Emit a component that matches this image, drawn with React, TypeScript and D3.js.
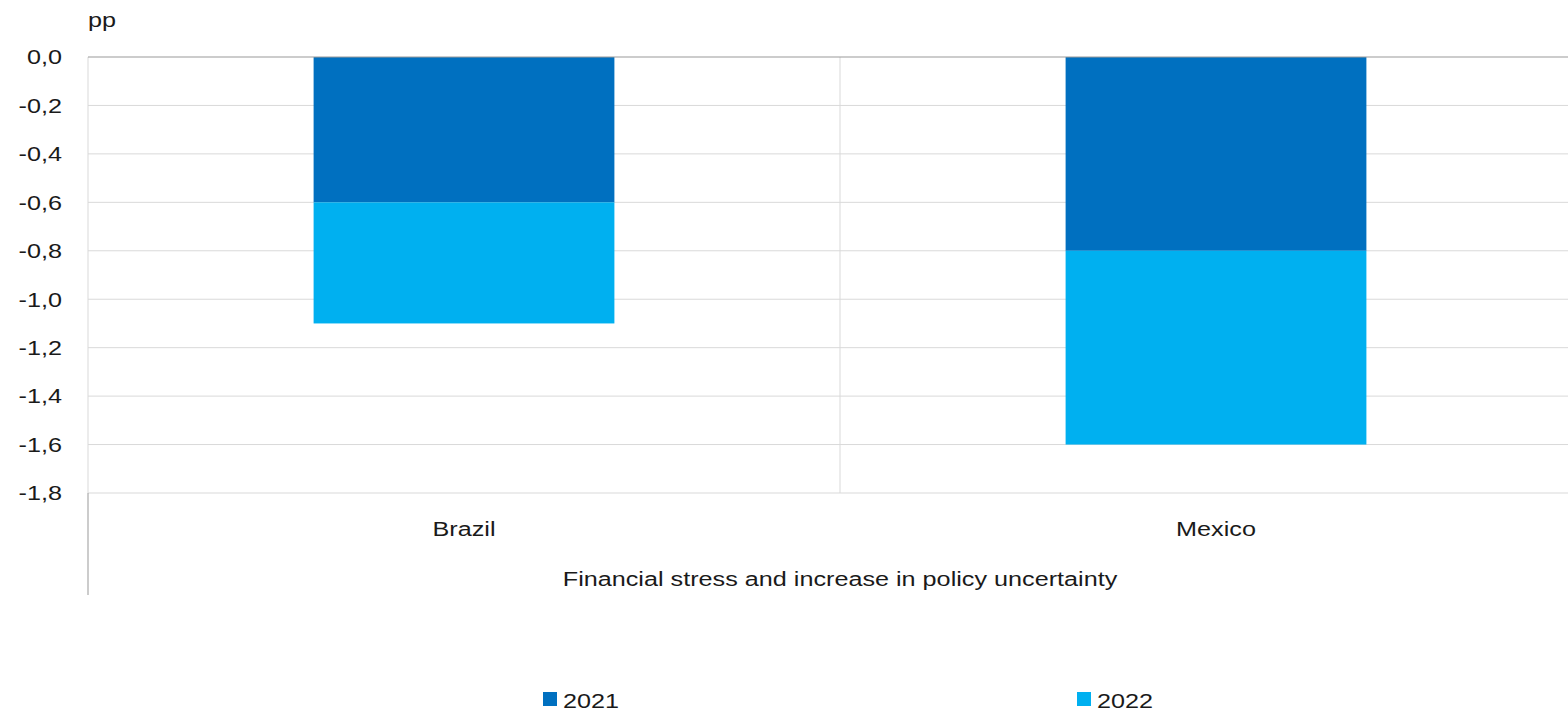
import React from "react";
import * as d3 from "d3";

const categories = ["Brazil", "Mexico"];
const series2021 = [-0.6, -0.8];
const series2022 = [-0.5, -0.8];
const yTicks = [0, -0.2, -0.4, -0.6, -0.8, -1.0, -1.2, -1.4, -1.6, -1.8];
const seriesNames = ["2021", "2022"];
const colors = ["#0070C0", "#00B0F0"];
const groupLabel = "Financial stress and increase in policy uncertainty";

const SX = 1.2;
const FS = 21;

function T(props: { x: number; y: number; anchor?: string; dy?: string; children: React.ReactNode }) {
  return (
    <text
      transform={`translate(${props.x},${props.y}) scale(${SX},1)`}
      dy={props.dy}
      textAnchor={props.anchor || "start"}
      fontSize={FS}
      fill="#1a1a1a"
    >
      {props.children}
    </text>
  );
}

export default function App() {
  const W = 1568, H = 713;
  const left = 88, right = 1592, top = 57, bottom = 493;
  const x = d3.scaleBand().domain(categories).range([left, right]).paddingInner(0).paddingOuter(0);
  const y = d3.scaleLinear().domain([0, -1.8]).range([top, bottom]);
  const barW = x.bandwidth() * 0.4;
  const font = "'Liberation Sans', Arial, sans-serif";
  const fmt = (v: number) => d3.format(".1f")(v).replace(".", ",").replace("−", "-");
  const stacks = categories.map((c, i) => {
    const a = series2021[i];
    const b = series2022[i];
    return [
      { y0: 0, y1: a, color: colors[0] },
      { y0: a, y1: a + b, color: colors[1] },
    ];
  });
  const legendX = [543, 1077];
  return (
    <svg width={W} height={H} style={{ position: "absolute", left: 0, top: 0 }} fontFamily={font}>
      <rect width={W} height={H} fill="#fff" />
      {yTicks.slice(1).map((t) => (
        <line key={t} x1={left} x2={W} y1={y(t)} y2={y(t)} stroke="#d9d9d9" strokeWidth={1} />
      ))}
      <line x1={x("Mexico")!} x2={x("Mexico")!} y1={top} y2={bottom} stroke="#d9d9d9" strokeWidth={1} />
      <line x1={left} x2={left} y1={top} y2={bottom} stroke="#d9d9d9" strokeWidth={1} />
      <line x1={left} x2={left} y1={bottom} y2={595} stroke="#999" strokeWidth={1} />
      {categories.map((c, i) =>
        stacks[i].map((s, j) => (
          <rect
            key={c + j}
            x={x(c)! + x.bandwidth() / 2 - barW / 2}
            width={barW}
            y={y(s.y0)}
            height={y(s.y1) - y(s.y0)}
            fill={s.color}
          />
        ))
      )}
      <line x1={left} x2={W} y1={y(0)} y2={y(0)} stroke="#999" strokeWidth={1.2} />
      {yTicks.map((t) => (
        <T key={t} x={62} y={y(t)} dy="0.35em" anchor="end">
          {fmt(t)}
        </T>
      ))}
      <T x={88} y={27}>pp</T>
      {categories.map((c) => (
        <T key={c} x={x(c)! + x.bandwidth() / 2} y={536} anchor="middle">
          {c}
        </T>
      ))}
      <T x={840} y={586} anchor="middle">{groupLabel}</T>
      {seriesNames.map((n, i) => (
        <g key={n}>
          <rect x={legendX[i]} y={692} width={14} height={14} fill={colors[i]} />
          <T x={legendX[i] + 20} y={708}>{n}</T>
        </g>
      ))}
    </svg>
  );
}
